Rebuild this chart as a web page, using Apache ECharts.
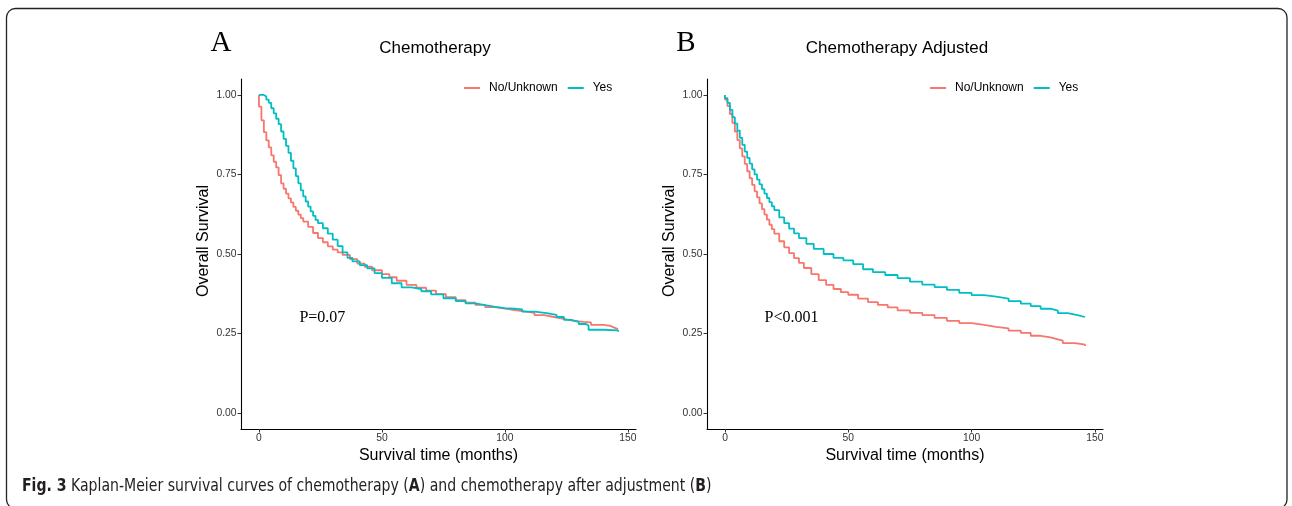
<!DOCTYPE html>
<html>
<head>
<meta charset="utf-8">
<script src="https://cdn.jsdelivr.net/npm/echarts@6/dist/echarts.min.js"></script>
<style>
  html, body { margin: 0; padding: 0; background: #fff; }
  #chart { width: 1292px; height: 506px; }
</style>
</head>
<body>
<div id="chart"></div>
<script>
// Kaplan-Meier estimates (months, survival probability)
const groupNames = ['No/Unknown', 'Yes'];

// Panel A: Chemotherapy
const timeA_no = [0, 0, 1, 2, 3, 4, 5, 6, 7, 8, 9, 10, 11, 12, 13, 14, 15, 16, 17, 18, 20, 22, 24, 26, 28, 30, 32, 34, 37, 40, 43, 46, 50, 53, 56, 60, 64, 68, 72, 76, 80, 84, 88, 92, 96, 100, 104, 108, 112, 116, 120, 124, 128, 132, 135, 140, 143, 144, 146];
const survA_no = [1.0, 0.963, 0.92, 0.883, 0.857, 0.835, 0.81, 0.79, 0.772, 0.748, 0.722, 0.705, 0.69, 0.675, 0.662, 0.648, 0.636, 0.624, 0.613, 0.602, 0.585, 0.566, 0.55, 0.537, 0.524, 0.514, 0.505, 0.497, 0.484, 0.47, 0.46, 0.449, 0.437, 0.427, 0.416, 0.403, 0.394, 0.385, 0.374, 0.364, 0.355, 0.347, 0.34, 0.333, 0.328, 0.324, 0.32, 0.315, 0.308, 0.302, 0.296, 0.29, 0.287, 0.285, 0.277, 0.274, 0.27, 0.264, 0.262];
const timeA_yes = [0, 2, 3, 4, 5, 6, 7, 8, 9, 10, 11, 12, 13, 14, 15, 16, 17, 18, 19, 20, 21, 22, 23, 24, 26, 28, 30, 32, 34, 36, 38, 41, 44, 47, 50, 54, 58, 62, 66, 70, 75, 80, 84, 88, 92, 96, 100, 104, 107, 112, 117, 121, 124, 127, 130, 133, 134, 140, 146];
const survA_yes = [1.0, 0.995, 0.985, 0.975, 0.958, 0.942, 0.925, 0.908, 0.885, 0.862, 0.84, 0.818, 0.793, 0.769, 0.745, 0.722, 0.7, 0.681, 0.665, 0.649, 0.634, 0.62, 0.607, 0.597, 0.581, 0.564, 0.545, 0.525, 0.505, 0.488, 0.477, 0.465, 0.455, 0.44, 0.425, 0.408, 0.395, 0.39, 0.383, 0.373, 0.361, 0.352, 0.345, 0.339, 0.334, 0.33, 0.328, 0.326, 0.319, 0.314, 0.309, 0.302, 0.293, 0.287, 0.28, 0.275, 0.262, 0.26, 0.256];

// Panel B: Chemotherapy Adjusted
const timeB_no = [0, 0, 1, 2, 3, 4, 5, 6, 7, 8, 9, 10, 11, 12, 13, 14, 15, 16, 17, 18, 19, 20, 22, 24, 26, 28, 30, 32, 35, 38, 41, 44, 47, 50, 54, 58, 62, 66, 70, 75, 80, 85, 90, 95, 100, 105, 110, 115, 120, 124, 128, 132, 135, 137, 142, 146];
const survB_no = [1.0, 0.985, 0.965, 0.94, 0.912, 0.885, 0.858, 0.832, 0.807, 0.783, 0.76, 0.738, 0.717, 0.697, 0.678, 0.659, 0.641, 0.624, 0.608, 0.592, 0.578, 0.564, 0.54, 0.521, 0.503, 0.487, 0.472, 0.456, 0.437, 0.418, 0.403, 0.39, 0.38, 0.372, 0.36, 0.349, 0.34, 0.332, 0.323, 0.315, 0.308, 0.299, 0.29, 0.283, 0.277, 0.271, 0.266, 0.259, 0.252, 0.243, 0.238, 0.232, 0.228, 0.22, 0.215, 0.211];
const timeB_yes = [0, 0, 1, 2, 3, 4, 5, 6, 7, 8, 9, 10, 11, 12, 13, 14, 15, 16, 17, 18, 19, 20, 22, 24, 26, 28, 30, 33, 36, 40, 44, 48, 52, 56, 60, 65, 70, 75, 80, 85, 90, 95, 100, 105, 110, 115, 120, 124, 128, 132, 135, 139, 143, 146];
const survB_yes = [1.0, 0.99, 0.975, 0.953, 0.93, 0.91, 0.888, 0.865, 0.843, 0.822, 0.802, 0.784, 0.766, 0.75, 0.734, 0.719, 0.704, 0.69, 0.676, 0.663, 0.65, 0.638, 0.615, 0.597, 0.58, 0.565, 0.55, 0.532, 0.516, 0.5, 0.488, 0.48, 0.468, 0.452, 0.443, 0.434, 0.424, 0.413, 0.404, 0.396, 0.387, 0.378, 0.371, 0.366, 0.36, 0.352, 0.344, 0.336, 0.328, 0.322, 0.314, 0.308, 0.302, 0.3];

// Axis ticks
const yTicks = [0, 0.25, 0.5, 0.75, 1];
const xTicks = [0, 50, 100, 150];

const panelTitles = ['Chemotherapy', 'Chemotherapy Adjusted'];
const panelLetters = ['A', 'B'];
const pLabels = ['P=0.07', 'P<0.001'];
const captionText = '{b|Fig. 3} Kaplan-Meier survival curves of chemotherapy ({b|A}) and chemotherapy after adjustment ({b|B})';

const colors = ['#F8766D', '#00BFC4'];
const sans = '"Liberation Sans", Arial, Helvetica, sans-serif';
const serif = '"Liberation Serif", "Times New Roman", serif';
const narrow = '"Liberation Sans Narrow", "DejaVu Sans Condensed", sans-serif';

const pairs = (t, s) => t.map((x, i) => [x, s[i]]);

function xAxisFor(idx) {
  return {
    type: 'value', gridIndex: idx, min: -7.3, max: 153.3,
    name: 'Survival time (months)', nameLocation: 'middle', nameGap: 15,
    nameTextStyle: { fontFamily: sans, fontSize: 16, color: '#000' },
    axisLine: { show: true, onZero: false, lineStyle: { color: '#000', width: 1.1 } },
    axisTick: { show: true, length: 3.5, lineStyle: { color: '#333' }, customValues: xTicks },
    axisLabel: { customValues: xTicks, margin: 4, fontFamily: sans, fontSize: 10.3, color: '#333' },
    splitLine: { show: false }
  };
}
function yAxisFor(idx) {
  return {
    type: 'value', gridIndex: idx, min: -0.05, max: 1.05,
    name: 'Overall Survival', nameLocation: 'middle', nameGap: 29,
    nameTextStyle: { fontFamily: sans, fontSize: 16, color: '#000', padding: [0, 0, 0, 26] },
    axisLine: { show: true, onZero: false, lineStyle: { color: '#000', width: 1.1 } },
    axisTick: { show: true, length: 3.5, lineStyle: { color: '#333' }, customValues: yTicks },
    axisLabel: { customValues: yTicks, margin: 4.5, fontFamily: sans, fontSize: 10.3, color: '#333',
      formatter: v => v.toFixed(2) },
    splitLine: { show: false }
  };
}
function kmSeries(name, idx, data, color, pText, pX) {
  const s = {
    name: name, type: 'line', xAxisIndex: idx, yAxisIndex: idx,
    step: 'end', symbol: 'none', data: data, color: color,
    lineStyle: { width: 1.8, color: color }, animation: false
  };
  if (pText) {
    s.markPoint = {
      symbol: 'circle', symbolSize: 0, silent: true,
      data: [{ coord: [pX, 0.3] }],
      label: { show: true, formatter: pText, position: 'inside',
        fontFamily: serif, fontSize: 16, color: '#000' }
    };
  }
  return s;
}

const legendBase = {
  icon: 'rect', itemWidth: 16, itemHeight: 2, itemGap: 10, padding: 0,
  textStyle: { fontFamily: sans, fontSize: 12, color: '#000', padding: [0, 0, 0, 4] },
  data: groupNames, selectedMode: false
};

const option = {
  backgroundColor: '#fff',
  animation: false,
  title: [
    { text: panelTitles[0], left: 430, top: 35, textAlign: 'center',
      textStyle: { fontFamily: sans, fontSize: 17, fontWeight: 'normal', color: '#000' } },
    { text: panelTitles[1], left: 892, top: 35, textAlign: 'center',
      textStyle: { fontFamily: sans, fontSize: 17, fontWeight: 'normal', color: '#000' } }
  ],
  legend: [
    Object.assign({}, legendBase, { left: 464, top: 82 }),
    Object.assign({}, legendBase, { left: 930, top: 82 })
  ],
  grid: [
    { left: 241, top: 79, width: 395, height: 350 },
    { left: 707, top: 79, width: 396, height: 350 }
  ],
  xAxis: [xAxisFor(0), xAxisFor(1)],
  yAxis: [yAxisFor(0), yAxisFor(1)],
  series: [
    kmSeries(groupNames[0], 0, pairs(timeA_no, survA_no), colors[0]),
    kmSeries(groupNames[1], 0, pairs(timeA_yes, survA_yes), colors[1], pLabels[0], 25.8),
    kmSeries(groupNames[0], 1, pairs(timeB_no, survB_no), colors[0]),
    kmSeries(groupNames[1], 1, pairs(timeB_yes, survB_yes), colors[1], pLabels[1], 27)
  ],
  graphic: [
    { type: 'rect', silent: true, z: -1,
      shape: { x: 6.5, y: 8.5, width: 1280.5, height: 500, r: 9 },
      style: { fill: 'none', stroke: '#222', lineWidth: 1.3 } },
    { type: 'text', x: 221, y: 43, silent: true,
      style: { text: panelLetters[0], font: '29px ' + serif, fill: '#000', align: 'center', verticalAlign: 'middle' } },
    { type: 'text', x: 686, y: 43, silent: true,
      style: { text: panelLetters[1], font: '29px ' + serif, fill: '#000', align: 'center', verticalAlign: 'middle' } },
    // caption, horizontally condensed to the journal's narrow face
    { type: 'text', x: 22, y: 487, scaleX: 0.92, silent: true,
      style: {
        text: captionText, fontFamily: narrow, fontSize: 17, fill: '#231f20', verticalAlign: 'middle',
        rich: { b: { fontWeight: 'bold', fontFamily: narrow, fontSize: 17, fill: '#231f20' } }
      } }
  ]
};

const chart = echarts.init(document.getElementById('chart'), null, { renderer: 'canvas' });
chart.setOption(option);
</script>
</body>
</html>
